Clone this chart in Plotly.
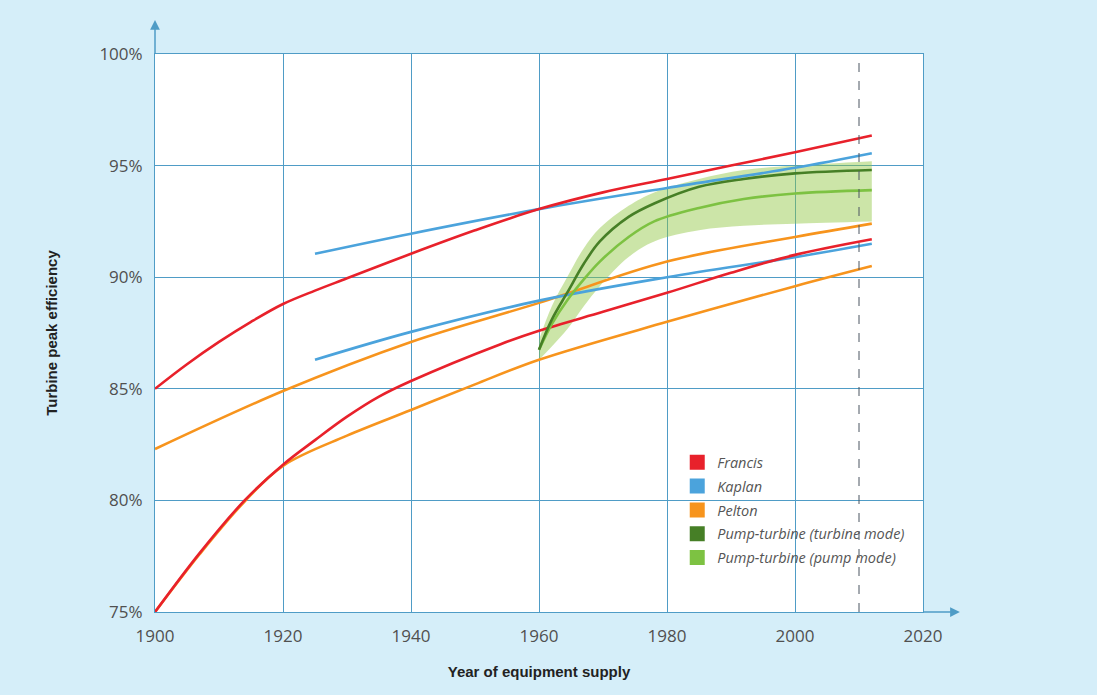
import plotly.graph_objects as go

# ---- data ----
francis_hi_x = [1900, 1905, 1910, 1915, 1920, 1925, 1930, 1940, 1950, 1960, 1970, 1980, 1990, 2000, 2012]
francis_hi_y = [85.0, 86.1, 87.1, 88.0, 88.8, 89.4, 89.95, 91.05, 92.1, 93.05, 93.8, 94.4, 95.0, 95.6, 96.35]
francis_lo_x = [1900, 1907, 1914, 1920, 1925, 1930, 1935, 1940, 1954, 1960, 1970, 1980, 1990, 2000, 2012]
francis_lo_y = [75.0, 77.65, 80.0, 81.6, 82.7, 83.75, 84.65, 85.35, 87.0, 87.6, 88.45, 89.3, 90.2, 91.0, 91.7]
kaplan_hi_x = [1925, 1940, 1960, 1980, 2000, 2012]
kaplan_hi_y = [91.05, 91.95, 93.05, 94.0, 94.9, 95.55]
kaplan_lo_x = [1925, 1940, 1960, 1980, 2000, 2012]
kaplan_lo_y = [86.3, 87.55, 88.95, 90.0, 90.9, 91.5]
pelton_hi_x = [1900, 1920, 1940, 1960, 1980, 2000, 2012]
pelton_hi_y = [82.3, 84.9, 87.1, 88.85, 90.7, 91.8, 92.4]
pelton_lo_x = [1900, 1907, 1914, 1920, 1930, 1940, 1950, 1960, 1980, 2000, 2012]
pelton_lo_y = [75.0, 77.6, 79.95, 81.55, 82.9, 84.05, 85.2, 86.3, 88.0, 89.6, 90.5]
pt_turb_x = [1960, 1962, 1964.5, 1967, 1969.5, 1974, 1978, 1985, 1992, 2000, 2012]
pt_turb_y = [86.75, 88.1, 89.35, 90.6, 91.6, 92.7, 93.3, 94.05, 94.4, 94.65, 94.8]
pt_pump_x = [1960, 1962, 1964.5, 1967, 1969.5, 1974, 1978, 1985, 1992, 2000, 2012]
pt_pump_y = [86.75, 87.9, 89.0, 89.9, 90.7, 91.8, 92.5, 93.1, 93.5, 93.75, 93.9]
band_x = [1960, 1962, 1964.5, 1967, 1969.5, 1974, 1978, 1985, 1992, 2000, 2012]
band_hi = [87.2, 88.7, 90.05, 91.3, 92.2, 93.2, 93.8, 94.4, 94.8, 95.0, 95.2]
band_lo = [86.3, 86.9, 87.7, 88.7, 89.6, 90.9, 91.6, 92.1, 92.3, 92.4, 92.5]
dashed_year = 2010

x_ticks = [1900, 1920, 1940, 1960, 1980, 2000, 2020]
y_ticks = [75, 80, 85, 90, 95, 100]
y_labels = ["75%", "80%", "85%", "90%", "95%", "100%"]

legend_names = ["Francis", "Kaplan", "Pelton", "Pump-turbine (turbine mode)", "Pump-turbine (pump mode)"]

RED = "#e8212b"
BLUE = "#4ba3dc"
ORANGE = "#f7941d"
DGREEN = "#467f26"
LGREEN = "#7dc242"
legend_colors = [RED, BLUE, ORANGE, DGREEN, LGREEN]
GRID = "#4f9cc6"

fig = go.Figure()

# band
fig.add_trace(go.Scatter(x=band_x, y=band_hi, mode="lines", line=dict(width=0, shape="spline"),
                         showlegend=False, hoverinfo="skip"))
fig.add_trace(go.Scatter(x=band_x, y=band_lo, mode="lines", line=dict(width=0, shape="spline"),
                         fill="tonexty", fillcolor="rgba(141,198,63,0.45)", showlegend=False, hoverinfo="skip"))

def line(x, y, c):
    fig.add_trace(go.Scatter(x=x, y=y, mode="lines", line=dict(color=c, width=2.6, shape="spline"),
                             showlegend=False))

line(pelton_hi_x, pelton_hi_y, ORANGE)
line(pelton_lo_x, pelton_lo_y, ORANGE)
line(kaplan_hi_x, kaplan_hi_y, BLUE)
line(kaplan_lo_x, kaplan_lo_y, BLUE)
line(francis_hi_x, francis_hi_y, RED)
line(francis_lo_x, francis_lo_y, RED)
line(pt_pump_x, pt_pump_y, LGREEN)
line(pt_turb_x, pt_turb_y, DGREEN)

# legend entries
for i, (n, c) in enumerate(zip(legend_names, legend_colors)):
    fig.add_trace(go.Scatter(x=[None], y=[None], mode="markers", name=n, legendgroup=f"g{i}",
                             marker=dict(symbol="square", size=15, color=c)))

# dashed vertical line
fig.add_shape(type="line", x0=dashed_year, x1=dashed_year, y0=75, y1=100, xref="x", yref="y",
              line=dict(color="#4a5560", width=1, dash="dash"))

# axis arrows
fig.add_annotation(x=0, y=1.061, ax=0, ay=35, xref="paper", yref="paper",
                   showarrow=True, arrowhead=2, arrowsize=1.3, arrowwidth=1.5, arrowcolor=GRID, text="")
fig.add_annotation(x=1.048, y=0, ax=-38, ay=0, xref="paper", yref="paper",
                   showarrow=True, arrowhead=2, arrowsize=1.3, arrowwidth=1.5, arrowcolor=GRID, text="")

fig.update_layout(
    width=1097, height=695,
    margin=dict(l=155, r=174, t=54, b=83),
    paper_bgcolor="#d5eef9",
    plot_bgcolor="#ffffff",
    font=dict(family="Open Sans, sans-serif", color="#505050", size=17),
    legend=dict(x=0.68, y=0.297, xanchor="left", yanchor="top", bgcolor="rgba(0,0,0,0)",
                traceorder="grouped", tracegroupgap=2,
                font=dict(size=14.5, color="#555555", style="italic")),
    xaxis=dict(range=[1900, 2020], tickvals=x_ticks, showgrid=True, gridcolor=GRID, gridwidth=1,
               showline=True, linecolor=GRID, mirror=True, zeroline=False, ticks="", ticklabelstandoff=9,
               title=dict(text="<b>Year of equipment supply</b>", font=dict(family="Liberation Sans, Arial", size=15, color="#222222"), standoff=20)),
    yaxis=dict(range=[75, 100], tickvals=y_ticks, ticktext=y_labels, showgrid=True, gridcolor=GRID, gridwidth=1,
               showline=True, linecolor=GRID, mirror=True, zeroline=False, ticks="", ticklabelstandoff=8,
               title=dict(text="<b>Turbine peak efficiency</b>", font=dict(family="Liberation Sans, Arial", size=15, color="#222222"), standoff=38)),
)

fig.write_html("out.html", config={"displayModeBar": False},
               post_script="document.body.style.margin='0';document.body.style.background='#d5eef9';")
